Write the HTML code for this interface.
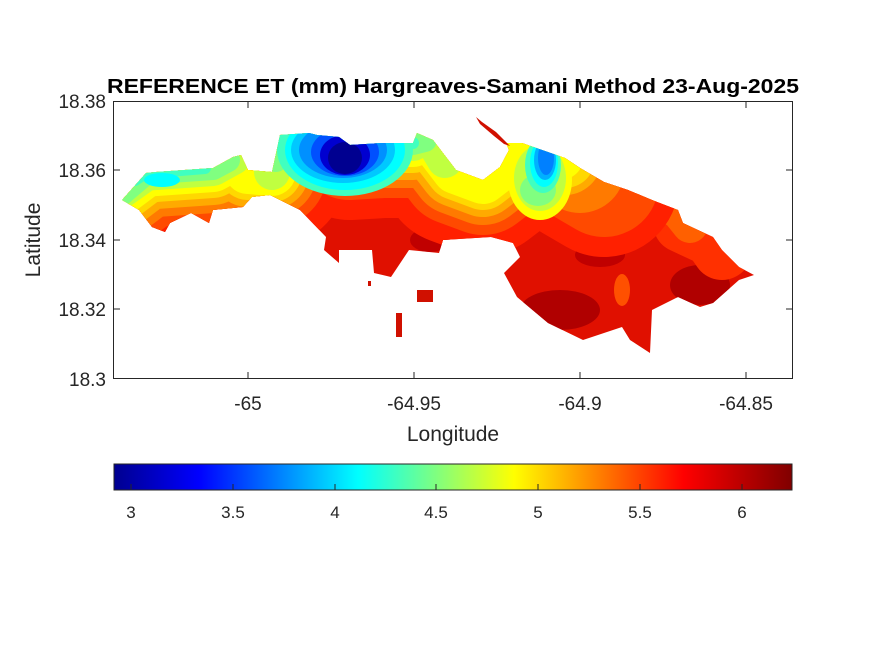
<!DOCTYPE html>
<html><head><meta charset="utf-8"><style>
html,body{margin:0;padding:0;background:#fff;}
svg{display:block;font-family:"Liberation Sans",sans-serif;}
</style></head><body>
<svg width="875" height="656" viewBox="0 0 875 656" xmlns="http://www.w3.org/2000/svg">
<defs>
<clipPath id="isl"><path d="M122,200 L146,173 L156,172 L213,168 L233,157 L241,155 L248,170 L272,172 L280,135 L309,133 L317,135 L339,137 L350,145 L383,143 L413,143 L417,133 L433,140 L456,170 L483,180 L500,167 L509,150 L506,143 L522,143 L565,158 L580,168 L604,182 L628,190 L652,200 L678,210 L683,223 L713,237 L722,250 L739,267 L754,275 L739,280 L713,303 L700,307 L678,297 L652,310 L650,353 L630,340 L622,327 L583,340 L548,323 L517,297 L504,273 L520,257 L513,243 L491,237 L443,240 L439,253 L409,250 L391,277 L374,273 L372,250 L339,250 L339,263 L324,250 L326,237 L300,210 L270,195 L252,197 L243,207 L213,210 L209,223 L191,213 L170,223 L165,232 L152,227 L139,210 Z"/></clipPath>
<linearGradient id="jet" x1="0" x2="1" y1="0" y2="0">
<stop offset="0" stop-color="#00008f"/><stop offset="0.125" stop-color="#0000ff"/><stop offset="0.36" stop-color="#00ffff"/><stop offset="0.59" stop-color="#ffff00"/><stop offset="0.84" stop-color="#ff0000"/><stop offset="1" stop-color="#800000"/>
</linearGradient>
</defs>
<rect width="875" height="656" fill="#fff"/>
<text x="453" y="93" text-anchor="middle" font-size="20" font-weight="bold" textLength="692" lengthAdjust="spacingAndGlyphs">REFERENCE ET (mm) Hargreaves-Samani Method  23-Aug-2025</text>
<g clip-path="url(#isl)">
<rect x="100" y="120" width="700" height="250" fill="#e01000"/>
<ellipse cx="560" cy="310" rx="40" ry="20" fill="#b00000"/>
<ellipse cx="700" cy="285" rx="30" ry="20" fill="#b00000"/>
<ellipse cx="600" cy="255" rx="25" ry="12" fill="#c00000"/>
<ellipse cx="430" cy="240" rx="20" ry="12" fill="#c00000"/>
<ellipse cx="622" cy="290" rx="8" ry="16" fill="#ff5000"/>
<ellipse cx="170" cy="225" rx="40" ry="10" fill="#b00000"/>
<g fill="none" stroke-linejoin="round" stroke-linecap="round">
<path d="M580,168 L604,182 L628,190 L652,200 L678,210 L683,223 L713,237 L722,250" stroke="#ff3000" stroke-width="60"/>
<path d="M580,168 L604,182 L628,190 L652,200 L678,210 L690,225" stroke="#ff6000" stroke-width="36"/>
<path d="M580,168 L604,182 L628,190 L652,200" stroke="#ff9000" stroke-width="18"/>
<path d="M110,200 L146,173 L156,172 L213,168 L233,157 L241,155 L248,170 L272,172 L280,135 L309,133 L317,135 L339,137 L350,145 L383,143 L413,143 L417,133 L433,140 L456,170 L483,180 L500,167 L509,150 L506,143 L522,143 L565,158 L580,168 L604,182" stroke="#ff2000" stroke-width="150"/>
<path d="M110,200 L146,173 L156,172 L213,168 L233,157 L241,155 L248,170 L272,172 L280,135 L309,133 L317,135 L339,137 L350,145 L383,143 L413,143 L417,133 L433,140 L456,170 L483,180 L500,167 L509,150 L506,143 L522,143 L565,158 L580,168 L604,182" stroke="#ff4a00" stroke-width="110"/>
<path d="M110,200 L146,173 L156,172 L213,168 L233,157 L241,155 L248,170 L272,172 L280,135 L309,133 L317,135 L339,137 L350,145 L383,143 L413,143 L417,133 L433,140 L456,170 L483,180 L500,167 L509,150 L506,143 L522,143 L565,158 L580,168" stroke="#ff7a00" stroke-width="90"/>
<path d="M110,200 L146,173 L156,172 L213,168 L233,157 L241,155 L248,170 L272,172 L280,135 L309,133 L317,135 L339,137 L350,145 L383,143 L413,143 L417,133 L433,140 L456,170 L483,180 L500,167 L509,150 L506,143 L522,143 L565,158" stroke="#ffaa00" stroke-width="74"/>
<path d="M110,200 L146,173 L156,172 L213,168 L233,157 L241,155 L248,170 L272,172 L280,135 L309,133 L317,135 L339,137 L350,145 L383,143 L413,143 L417,133 L433,140 L456,170 L483,180 L500,167 L509,150 L506,143 L522,143 L565,158" stroke="#ffd800" stroke-width="60"/>
<path d="M110,200 L146,173 L156,172 L213,168 L233,157 L241,155 L248,170 L272,172 L280,135 L309,133 L317,135 L339,137 L350,145 L383,143 L413,143 L417,133 L433,140 L456,170 L483,180 L500,167 L509,150 L506,143 L522,143 L560,156" stroke="#ffff00" stroke-width="48"/>
<path d="M115,195 L146,173 L156,172 L213,168 L233,157 M272,172 L280,135 L309,133 L317,135 L339,137 L350,145 L383,143 L413,143 L417,133 L433,140 L445,160" stroke="#c0ff40" stroke-width="36"/>
<path d="M120,195 L146,173 L156,172 L213,168 L228,160 M276,160 L280,135 L309,133 L317,135 L339,137 L350,145 L383,143 L413,143 L425,140" stroke="#80ff80" stroke-width="24"/>
<path d="M135,180 L146,173 L156,172 L205,168 M280,140 L309,133 L317,135 L339,137 L350,145 L383,143 L413,143" stroke="#40ffc0" stroke-width="12"/>
</g>
<ellipse cx="540" cy="180" rx="32" ry="40" fill="#ffff00"/>
<ellipse cx="540" cy="178" rx="26" ry="33" fill="#c0ff40"/>
<ellipse cx="538" cy="190" rx="18" ry="16" fill="#80ff80"/>
<ellipse cx="543" cy="165" rx="18" ry="28" fill="#40ffc0"/>
<ellipse cx="544" cy="163" rx="14" ry="24" fill="#00ffff"/>
<ellipse cx="545" cy="160" rx="11" ry="20" fill="#00b0ff"/>
<ellipse cx="546" cy="158" rx="8" ry="17" fill="#0080ff"/>
<ellipse cx="300" cy="150" rx="22" ry="16" fill="#00e0ff"/>
<ellipse cx="345" cy="150" rx="68" ry="46" fill="#40ffc0"/>
<ellipse cx="345" cy="150" rx="60" ry="40" fill="#00ffff"/>
<ellipse cx="343" cy="150" rx="52" ry="33" fill="#00c8ff"/>
<ellipse cx="343" cy="150" rx="44" ry="28" fill="#0090ff"/>
<ellipse cx="345" cy="152" rx="34" ry="24" fill="#0050ff"/>
<ellipse cx="345" cy="155" rx="25" ry="20" fill="#0000d0"/>
<ellipse cx="345" cy="158" rx="17" ry="16" fill="#000090"/>
<ellipse cx="162" cy="180" rx="18" ry="7" fill="#00ffff"/>
</g>
<g fill="#d01000">
<rect x="417" y="290" width="16" height="12"/>
<rect x="396" y="313" width="6" height="24"/>
<rect x="368" y="281" width="3" height="5"/>
<polygon points="476,117 482,122 496,132 506,142 510,146 504,144 494,136 480,124"/>
</g>
<rect x="113.5" y="101.5" width="679" height="277" fill="none" stroke="#262626" stroke-width="1"/>
<g stroke="#262626">
<line x1="248" y1="378" x2="248" y2="372"/><line x1="414" y1="378" x2="414" y2="372"/><line x1="580" y1="378" x2="580" y2="372"/><line x1="746" y1="378" x2="746" y2="372"/>
<line x1="248" y1="102" x2="248" y2="108"/><line x1="414" y1="102" x2="414" y2="108"/><line x1="580" y1="102" x2="580" y2="108"/><line x1="746" y1="102" x2="746" y2="108"/>
<line x1="114" y1="170" x2="120" y2="170"/><line x1="114" y1="240" x2="120" y2="240"/><line x1="114" y1="309" x2="120" y2="309"/>
<line x1="792" y1="170" x2="786" y2="170"/><line x1="792" y1="240" x2="786" y2="240"/><line x1="792" y1="309" x2="786" y2="309"/>
</g>
<g font-size="19" fill="#262626">
<g text-anchor="middle"><text x="248" y="410">-65</text><text x="414" y="410">-64.95</text><text x="580" y="410">-64.9</text><text x="746" y="410">-64.85</text></g>
<g text-anchor="end"><text x="106" y="108">18.38</text><text x="106" y="177">18.36</text><text x="106" y="247">18.34</text><text x="106" y="316">18.32</text><text x="106" y="386">18.3</text></g>
<text x="453" y="441" text-anchor="middle" font-size="21">Longitude</text>
<text transform="translate(40,240) rotate(-90)" text-anchor="middle" font-size="21">Latitude</text>
</g>
<rect x="114" y="464" width="678" height="26" fill="url(#jet)" stroke="#262626" stroke-width="1"/>
<g stroke="#262626">
<line x1="131" y1="490" x2="131" y2="484"/><line x1="233" y1="490" x2="233" y2="484"/><line x1="335" y1="490" x2="335" y2="484"/><line x1="436" y1="490" x2="436" y2="484"/><line x1="538" y1="490" x2="538" y2="484"/><line x1="640" y1="490" x2="640" y2="484"/><line x1="742" y1="490" x2="742" y2="484"/>
</g>
<g font-size="17" fill="#262626" text-anchor="middle">
<text x="131" y="518">3</text><text x="233" y="518">3.5</text><text x="335" y="518">4</text><text x="436" y="518">4.5</text><text x="538" y="518">5</text><text x="640" y="518">5.5</text><text x="742" y="518">6</text>
</g>
</svg>
</body></html>
